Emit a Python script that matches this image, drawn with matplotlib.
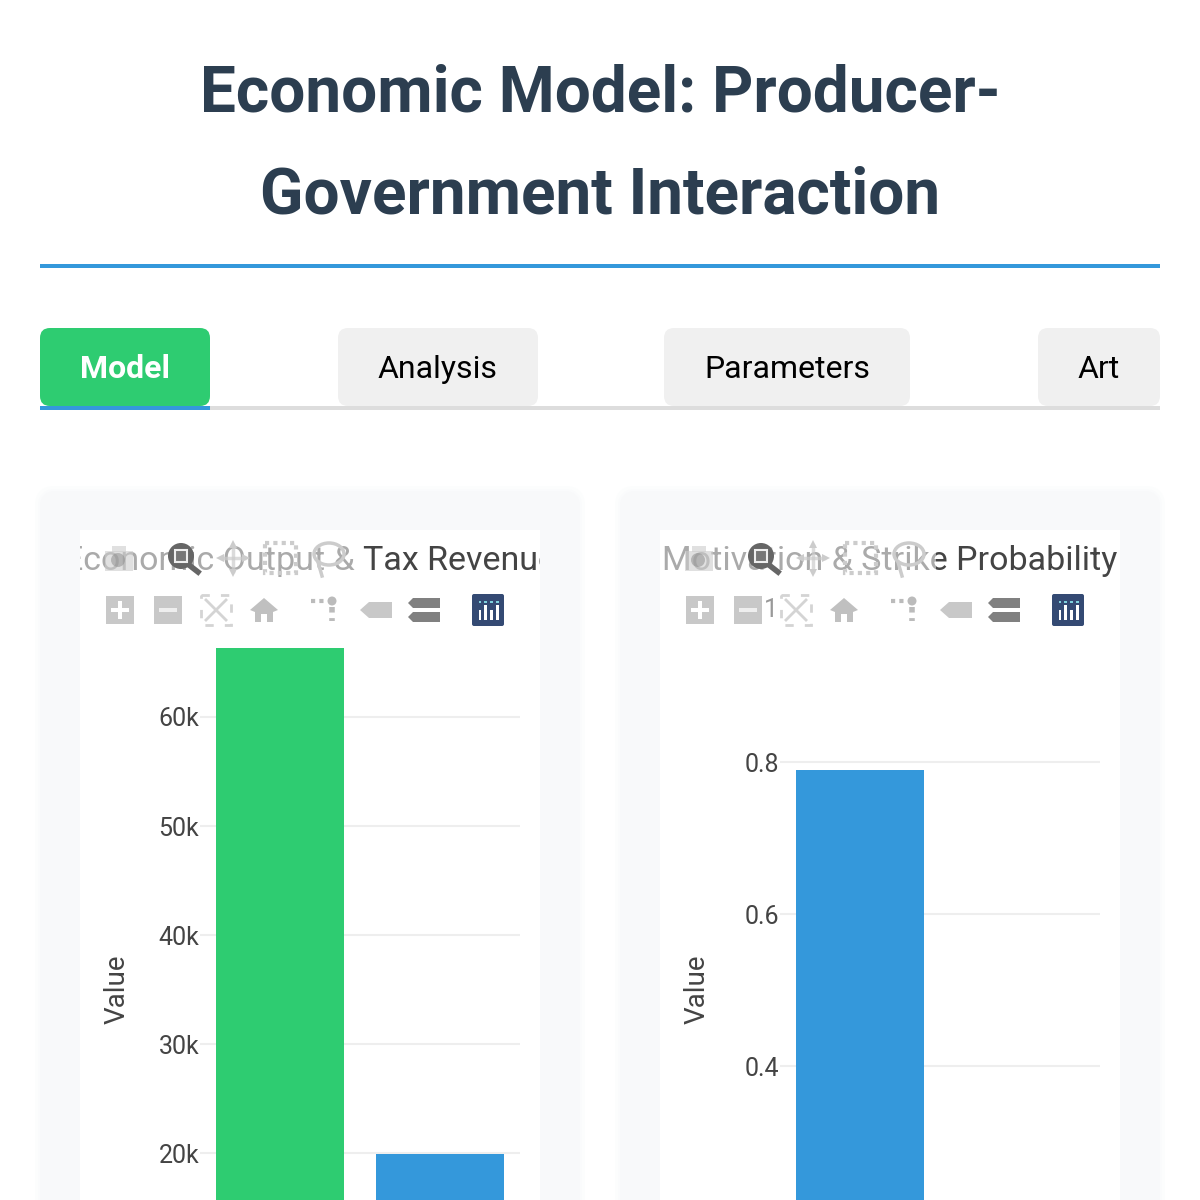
from matplotlib.patches import Circle, Ellipse, FancyBboxPatch, Polygon, Rectangle
from matplotlib.ticker import FuncFormatter
import matplotlib.pyplot as plt

plt.rcParams["font.family"] = ["Roboto", "DejaVu Sans"]

# values
left_categories = ["Economic Output", "Tax Revenue"]
left_values = [66300, 19900]
left_ticks = [20000, 30000, 40000, 50000, 60000]
right_categories = ["Motivation"]
right_values = [0.79]
right_ticks = [0.4, 0.6, 0.8]
title_lines = ["Economic Model: Producer-", "Government Interaction"]
tabs = ["Model", "Analysis", "Parameters", "Art"]

GREEN = "#2ecc71"
BLUE = "#3498db"
DARK = "#2c3e50"
TEXT = "#444444"
GRID = "#eeeeee"

fig = plt.figure(figsize=(12, 12), dpi=100, facecolor="white")

# overlay in pixel coords for everything around the charts
page = fig.add_axes([0, 0, 1, 1], zorder=0)
page.set_xlim(0, 1200)
page.set_ylim(1200, 0)
page.axis("off")


def rounded(ax, x0, y0, x1, y1, radius, color, **kw):
    box = FancyBboxPatch((x0 + radius, y0 + radius), x1 - x0 - 2 * radius, y1 - y0 - 2 * radius,
                         boxstyle=f"round,pad={radius},rounding_size={radius}",
                         facecolor=color, edgecolor="none", **kw)
    ax.add_patch(box)


page.text(600, 94, title_lines[0], fontsize=46, fontweight="bold", color=DARK, ha="center", va="center")
page.text(600, 196, title_lines[1], fontsize=46, fontweight="bold", color=DARK, ha="center", va="center")
page.add_patch(Rectangle((40, 264), 1120, 4, color=BLUE, lw=0))

# tabs
page.add_patch(Rectangle((40, 406), 1120, 4, color="#dddddd", lw=0))
page.add_patch(Rectangle((40, 406), 170, 4, color=BLUE, lw=0))
tab_edges = [(40, 210), (338, 538), (664, 910), (1038, 1160)]
for i, (name, (x0, x1)) in enumerate(zip(tabs, tab_edges)):
    rounded(page, x0, 328, x1, 406, 10, GREEN if i == 0 else "#f0f0f0")
    page.text((x0 + x1) / 2, 369, name, fontsize=23, ha="center", va="center",
              color="white" if i == 0 else "black", fontweight="bold" if i == 0 else "normal")


def draw_icons(dx):
    light, mid, dark = "#cccccc", "#8a8a8a", "#666666"
    # top row: camera, zoom, pan, box select, lasso
    page.add_patch(Rectangle((105 + dx, 551), 28, 20, color=light, alpha=0.6, lw=0, zorder=5))
    page.add_patch(Rectangle((112 + dx, 546), 14, 6, color=light, alpha=0.6, lw=0, zorder=5))
    page.add_patch(Circle((118 + dx, 560), 7, color=mid, alpha=0.5, lw=0, zorder=5))
    page.add_patch(Circle((181 + dx, 556), 13, color=dark, lw=0, zorder=5))
    page.add_patch(Rectangle((175 + dx, 550), 12, 12, facecolor="#777777", edgecolor="#eeeeee", lw=1.5, zorder=6))
    page.plot([189 + dx, 198 + dx], [565, 572], color=dark, lw=4, zorder=5)
    page.plot([222 + dx, 244 + dx], [558, 558], color=light, lw=2.5, alpha=0.7, zorder=5)
    page.plot([233 + dx, 233 + dx], [546, 571], color=light, lw=2.5, alpha=0.7, zorder=5)
    for mx, my, m in [(220, 558, "<"), (246, 558, ">"), (233, 544, "^"), (233, 573, "v")]:
        page.plot(mx + dx, my, marker=m, ms=6, color=light, mew=0, zorder=5)
    page.add_patch(Rectangle((265 + dx, 543), 31, 30, facecolor="none", edgecolor=light, lw=3, ls=(0, (1, 1)), zorder=5))
    page.add_patch(Ellipse((329 + dx, 554), 30, 22, facecolor="none", edgecolor=light, lw=2.5, zorder=5))
    page.plot([318 + dx, 322 + dx], [562, 576], color=light, lw=2.5, zorder=5)
    # bottom row: plus, minus, autoscale, home, spikes, hover, compare, logo
    page.add_patch(Rectangle((106 + dx, 596), 28, 28, color="#c8c8c8", lw=0, zorder=5))
    page.add_patch(Rectangle((118 + dx, 601), 4, 18, color="white", lw=0, zorder=6))
    page.add_patch(Rectangle((111 + dx, 608), 18, 4, color="white", lw=0, zorder=6))
    page.add_patch(Rectangle((154 + dx, 596), 28, 28, color="#c8c8c8", lw=0, zorder=5))
    page.add_patch(Rectangle((159 + dx, 608), 18, 4, color="#eeeeee", lw=0, zorder=6))
    page.add_patch(Rectangle((201 + dx, 595), 30, 30, facecolor="none", edgecolor="#d4d4d4", lw=2, ls=(0, (3, 4)), zorder=5))
    page.plot([206 + dx, 226 + dx], [600, 620], color="#d4d4d4", lw=2, zorder=5)
    page.plot([206 + dx, 226 + dx], [620, 600], color="#d4d4d4", lw=2, zorder=5)
    page.add_patch(Polygon([(250 + dx, 610), (264 + dx, 598), (278 + dx, 610), (273 + dx, 612), (273 + dx, 622),
                            (267 + dx, 622), (267 + dx, 614), (261 + dx, 614), (261 + dx, 622), (255 + dx, 622),
                            (255 + dx, 612)], color="#c0c0c0", lw=0, zorder=5))
    page.add_patch(Circle((332 + dx, 601), 4.5, color="#bbbbbb", lw=0, zorder=5))
    page.plot([332 + dx, 332 + dx], [607, 621], color="#bbbbbb", lw=4, ls=(0, (1, 1)), zorder=5)
    page.plot([311 + dx, 326 + dx], [601, 601], color="#bbbbbb", lw=3, ls=(0, (1, 1)), zorder=5)
    page.add_patch(Polygon([(360 + dx, 610), (369 + dx, 602), (392 + dx, 602), (392 + dx, 618), (369 + dx, 618)],
                           color="#c8c8c8", lw=0, zorder=5))
    page.add_patch(Polygon([(408 + dx, 603), (413 + dx, 598), (440 + dx, 598), (440 + dx, 608), (413 + dx, 608)],
                           color="#808080", lw=0, zorder=5))
    page.add_patch(Polygon([(408 + dx, 617), (413 + dx, 612), (440 + dx, 612), (440 + dx, 622), (413 + dx, 622)],
                           color="#808080", lw=0, zorder=5))
    rounded(page, 472 + dx, 594, 504 + dx, 626, 2, "#344a73", zorder=5)
    for k, h in enumerate([10, 15, 10, 15]):
        page.add_patch(Rectangle((478.5 + dx + k * 5.8, 620 - h), 2.6, h, color="white", lw=0, zorder=6))
        page.add_patch(Rectangle((478.5 + dx + k * 5.8, 601), 2.6, 2.4, color="#7fd0dd", lw=0, zorder=6))


def draw_card(x0, title, categories, values, ticks, colors, y_top, fmt):
    # soft card shadow then card body and white plot background
    rounded(page, x0 - 5, 486, x0 + 545, 1240, 20, "#fcfdfd")
    rounded(page, x0 - 2, 489, x0 + 542, 1240, 18, "#fafbfc")
    rounded(page, x0, 491, x0 + 540, 1240, 16, "#f8f9fa")
    page.add_patch(Rectangle((x0 + 40, 530), 460, 700, color="white", lw=0))

    clip = Rectangle((x0 + 40, 530), 460, 60, transform=page.transData)
    t = page.text(x0 + 270, 561, title, fontsize=24.5, color=TEXT, ha="center", va="center", zorder=2)
    t.set_clip_on(True)
    t.set_clip_path(clip)
    # modebar washes out the left part of the title
    page.add_patch(Rectangle((x0 + 40, 532), 276, 48, color="white", alpha=0.55, lw=0, zorder=3))

    ax = fig.add_axes([(x0 + 160) / 1200, 0, 320 / 1200, (1200 - 648) / 1200], zorder=1)
    ax.patch.set_alpha(0)
    ax.bar(range(len(values)), values, width=0.8, color=colors, zorder=2)
    ax.set_xlim(-0.5, 1.5)
    ax.set_ylim(*y_top)
    ax.set_yticks(ticks)
    ax.yaxis.set_major_formatter(FuncFormatter(fmt))
    ax.set_xticks([])
    ax.grid(axis="y", color=GRID, lw=1.5, zorder=1)
    ax.set_axisbelow(True)
    for s in ax.spines.values():
        s.set_visible(False)
    ax.tick_params(axis="y", length=0, labelsize=18, labelcolor=TEXT, pad=0.5)
    page.text(x0 + 77, 989, "Value", fontsize=20, color=TEXT, rotation=90, ha="center", va="center")
    draw_icons(x0 - 40)


draw_card(40, "Economic Output & Tax Revenue", left_categories, left_values, left_ticks,
          [GREEN, BLUE], (15690, 66330), lambda v, p: f"{v / 1000:.0f}k")
draw_card(620, "Motivation & Strike Probability", right_categories, right_values, right_ticks,
          [BLUE], (0.2237, 0.95), lambda v, p: f"{v:.1f}")
page.text(771, 610, "1", fontsize=18, color="#999999", ha="center", va="center", zorder=4)

fig.savefig("out.png", dpi=100)
